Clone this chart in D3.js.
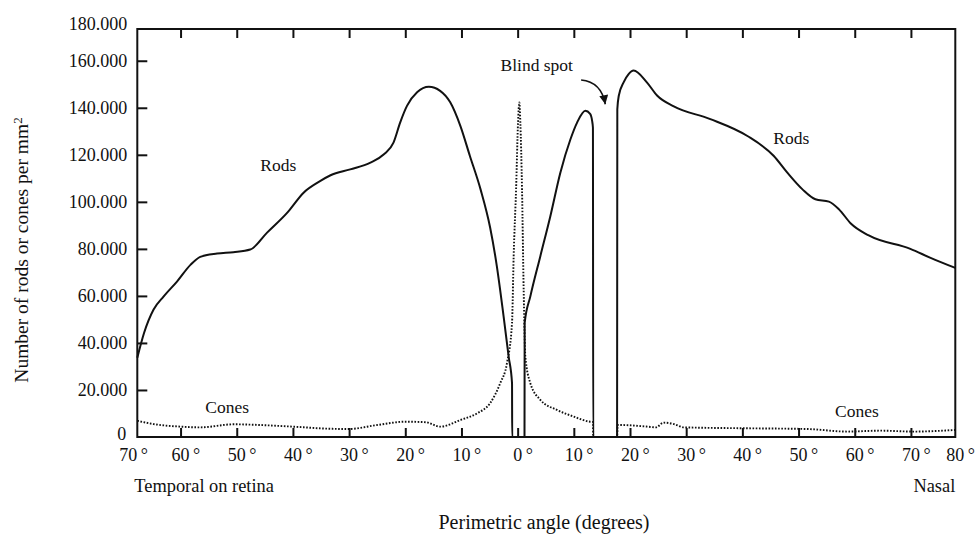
<!DOCTYPE html>
<html>
<head>
<meta charset="utf-8">
<script src="https://cdn.jsdelivr.net/npm/d3@7"></script>
<style>
  body { margin: 0; background: #fff; }
  svg { display: block; }
  text { font-family: "Liberation Serif", "DejaVu Serif", serif; fill: #111; }
</style>
</head>
<body>
<svg id="chart" width="977" height="534" font-family="Liberation Serif"></svg>
<script>
// angle in degrees: negative = temporal side, positive = nasal side
var rod_angle = [-67.7, -66.5, -64.8, -63.0, -60.6, -58.2, -56.5, -53.5, -50.6, -47.6,
    -44.6, -41.0, -38.1, -35.1, -33.3, -29.8, -26.2, -23.8, -22.1, -20.9,
    -19.7, -17.9, -15.8, -13.8, -12.0, -10.2, -8.5, -6.6, -4.9, -3.7,
    -2.5, -1.6, -1.0, -0.97, 1.22, 1.25, 2.26, 4.04, 5.82, 7.6,
    9.4, 10.6, 12.05, 12.9, 13.25, 13.4, 13.45, 17.7, 17.74, 18.0,
    18.86, 19.75, 20.64, 23.0, 24.86, 27.8, 34.3, 40.9, 45.6, 48.0,
    50.7, 53.0, 55.4, 57.2, 59.3, 62.5, 69.9, 73.5, 77.9];
var rod_value = [33700, 44200, 54200, 59800, 66200, 73300, 76600, 78000, 78600, 79700,
    86900, 95400, 103900, 108900, 111300, 113800, 116700, 120200, 125200, 133800,
    140800, 146600, 148900, 147200, 142300, 132300, 119500, 105300, 89100, 72600,
    51300, 34200, 22900, 0, 0, 48500, 59800, 76900, 93900, 112400,
    126600, 133800, 138700, 137400, 134500, 131500, 0, 0, 139400, 145100,
    150800, 154300, 155800, 150800, 145100, 140600, 135200, 128000, 119500, 112400,
    105300, 101100, 100100, 96800, 90800, 85700, 80000, 76200, 71900];

var cone_angle = [-67.7, -64.8, -60.0, -56.5, -50.5, -47.0, -40.0, -33.3, -30.1, -25.0,
    -20.0, -16.4, -13.8, -10.2, -7.2, -4.9, -3.1, -1.9, -1.0, -0.71,
    -0.28, 0.07, 0.3, 0.48, 0.78, 1.07, 1.37, 2.26, 4.04, 7.0,
    9.96, 12.9, 13.4, 13.45, 17.7, 17.8, 18.3, 23.1, 24.6, 26.0,
    27.8, 29.6, 40.9, 51.5, 58.7, 64.6, 70.5, 77.9];
var cone_value = [6900, 5500, 4400, 4100, 5400, 5200, 4400, 3500, 3400, 5100,
    6500, 6300, 4400, 7200, 10100, 14400, 22900, 31400, 48500, 76900,
    105300, 133800, 142300, 133800, 105300, 62700, 34200, 22900, 15800, 11500,
    8700, 6500, 6400, 0, 0, 5100, 5100, 4400, 4100, 6100,
    5500, 4100, 3700, 3400, 2300, 2700, 2300, 3000];

var x_ticks = [-60, -50, -40, -30, -20, -10, 0, 10, 20, 30, 40, 50, 60, 70];
var x_edge = [-67.7, 77.9];
var x_edge_labels = ["70", "80"];
var y_ticks = [20000, 40000, 60000, 80000, 100000, 120000, 140000, 160000];
var y_top = 173500;
var y_top_label = 180000;

var note_text = ["Rods", "Rods", "Cones", "Cones", "Blind spot"];
var note_angle = [-42.6, 48.7, -51.7, 60.4, 3.4];
var note_value = [113000, 124500, 10200, 8500, 155600];

// blind spot arrow: start, control, tip
var arrow_angle = [11.3, 14.9, 15.6];
var arrow_value = [151800, 151000, 141500];

var svg = d3.select("#chart");
var frame = { left: 137.3, right: 955.3, top: 29, bottom: 437 };

var x = d3.scaleLinear().domain(x_edge).range([frame.left, frame.right]);
var y = d3.scaleLinear().domain([0, y_top]).range([frame.bottom, frame.top]);

var de = d3.formatLocale({ decimal: ",", thousands: ".", grouping: [3], currency: ["", ""] });
var fmt = de.format(",");

svg.append("defs").append("marker")
    .attr("id", "head")
    .attr("viewBox", "0 0 10 10")
    .attr("refX", 10)
    .attr("refY", 5)
    .attr("markerWidth", 10)
    .attr("markerHeight", 9)
    .attr("markerUnits", "userSpaceOnUse")
    .attr("orient", "auto")
    .append("path")
    .attr("d", "M0,0 L10,5 L0,10 z")
    .attr("fill", "#111");

function draw_axes() {
    var left = svg.append("g")
        .attr("transform", "translate(" + frame.left + ",0)")
        .call(d3.axisLeft(y).tickValues(y_ticks).tickSize(-10).tickPadding(10).tickFormat(fmt));
    left.select(".domain").remove();

    var bottom = svg.append("g")
        .attr("transform", "translate(0," + frame.bottom + ")")
        .call(d3.axisBottom(x).tickValues(x_ticks).tickSize(-9).tickFormat(""));
    bottom.select(".domain").remove();

    var top = svg.append("g")
        .attr("transform", "translate(0," + frame.top + ")")
        .call(d3.axisTop(x).tickValues(x_ticks).tickSize(-9).tickFormat(""));
    top.select(".domain").remove();

    svg.selectAll("g").attr("font-family", "Liberation Serif");

    svg.selectAll(".tick line")
        .attr("stroke", "#111")
        .attr("stroke-width", 2);

    left.selectAll("text")
        .attr("font-size", "18px")
        .attr("fill", "#111");

    // 0 and the top label
    svg.append("text")
        .attr("x", frame.left - 11)
        .attr("y", y(0))
        .attr("dy", "0.15em")
        .attr("text-anchor", "end")
        .attr("font-size", "18px")
        .text("0");

    svg.append("text")
        .attr("x", frame.left - 10)
        .attr("y", y(y_top) - 5)
        .attr("dy", "0.33em")
        .attr("text-anchor", "end")
        .attr("font-size", "18px")
        .text(fmt(y_top_label));

    svg.append("rect")
        .attr("x", frame.left)
        .attr("y", frame.top)
        .attr("width", frame.right - frame.left)
        .attr("height", frame.bottom - frame.top)
        .attr("fill", "none")
        .attr("stroke", "#111")
        .attr("stroke-width", 2);
}

function degree_label(px, num, anchor) {
    var t = svg.append("text")
        .attr("x", px)
        .attr("y", 461)
        .attr("text-anchor", anchor)
        .attr("font-size", "18px")
        .text(num);
    var b = t.node().getBBox();
    svg.append("text")
        .attr("x", b.x + b.width + 3.5)
        .attr("y", 461)
        .attr("font-size", "18px")
        .text("\u00b0");
}

function draw_x_labels() {
    for (var i = 0; i < x_ticks.length; i++) {
        degree_label(x(x_ticks[i]), Math.abs(x_ticks[i]), "middle");
    }
    degree_label(x(x_edge[0]), x_edge_labels[0], "end");
    degree_label(x(x_edge[1]), x_edge_labels[1], "middle");
}

function draw_lines() {
    var rods = d3.range(rod_angle.length);
    var cones = d3.range(cone_angle.length);

    svg.append("path")
        .datum(cones)
        .attr("d", d3.line()
            .x(function(i) { return x(cone_angle[i]); })
            .y(function(i) { return y(cone_value[i]); })
            .curve(d3.curveMonotoneX))
        .attr("fill", "none")
        .attr("stroke", "#111")
        .attr("stroke-width", 1.9)
        .attr("stroke-dasharray", "1.6,1.6");

    svg.append("path")
        .datum(rods)
        .attr("d", d3.line()
            .x(function(i) { return x(rod_angle[i]); })
            .y(function(i) { return y(rod_value[i]); })
            .curve(d3.curveMonotoneX))
        .attr("fill", "none")
        .attr("stroke", "#111")
        .attr("stroke-width", 2)
        .attr("stroke-linejoin", "round");
}

function draw_notes() {
    for (var i = 0; i < note_text.length; i++) {
        svg.append("text")
            .attr("x", x(note_angle[i]))
            .attr("y", y(note_value[i]))
            .attr("text-anchor", "middle")
            .attr("font-size", "17.5px")
            .text(note_text[i]);
    }

    svg.append("path")
        .attr("d", "M" + x(arrow_angle[0]) + "," + y(arrow_value[0]) +
            " Q" + x(arrow_angle[1]) + "," + y(arrow_value[1]) +
            " " + x(arrow_angle[2]) + "," + y(arrow_value[2]))
        .attr("fill", "none")
        .attr("stroke", "#111")
        .attr("stroke-width", 1.6)
        .attr("marker-end", "url(#head)");
}

function draw_titles() {
    svg.append("text")
        .attr("x", frame.left - 3)
        .attr("y", 492)
        .attr("font-size", "18.4px")
        .text("Temporal on retina");

    svg.append("text")
        .attr("x", frame.right)
        .attr("y", 492)
        .attr("text-anchor", "end")
        .attr("font-size", "18.4px")
        .text("Nasal");

    svg.append("text")
        .attr("x", 544)
        .attr("y", 529)
        .attr("text-anchor", "middle")
        .attr("font-size", "20px")
        .text("Perimetric angle (degrees)");

    var yt = svg.append("text")
        .attr("transform", "translate(28,250) rotate(-90)")
        .attr("text-anchor", "middle")
        .attr("font-size", "19.5px");
    yt.append("tspan").text("Number of rods or cones per mm");
    yt.append("tspan")
        .attr("dy", "-0.45em")
        .attr("font-size", "13px")
        .text("2");
}

draw_lines();
draw_axes();
draw_x_labels();
draw_notes();
draw_titles();
</script>
</body>
</html>
